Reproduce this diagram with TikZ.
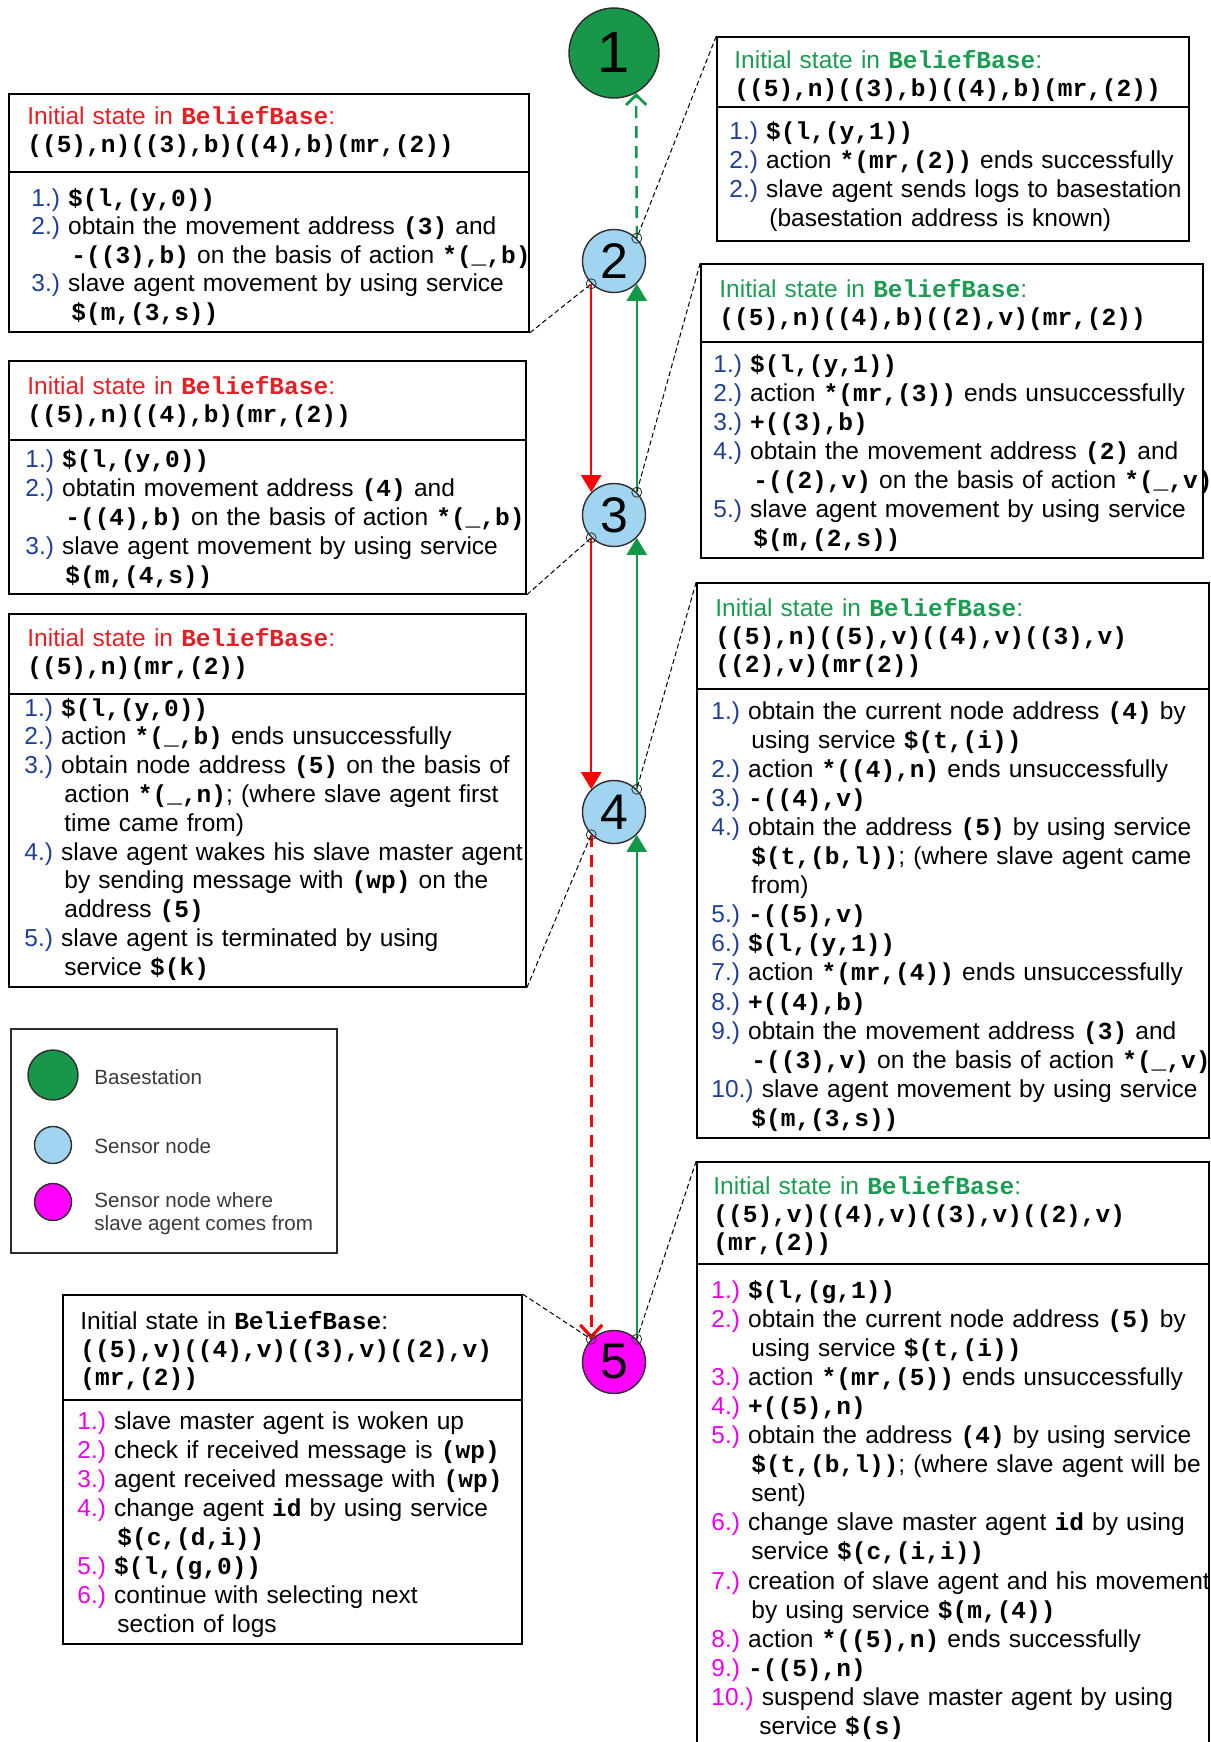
\documentclass[tikz,border=0pt]{standalone}
\usepackage{fontspec}
\setmainfont{Liberation Sans}
\newfontfamily\codefont{Liberation Mono}
\usetikzlibrary{arrows.meta,fit}

\definecolor{hdred}{RGB}{228,32,36}
\definecolor{hdgreen}{RGB}{28,156,82}
\definecolor{numblue}{RGB}{32,64,150}
\definecolor{nummag}{RGB}{232,0,232}
\definecolor{basegreen}{RGB}{24,150,74}
\definecolor{skyblue}{RGB}{160,212,240}
\definecolor{pinkmag}{RGB}{255,0,255}
\definecolor{flowred}{RGB}{255,0,0}
\definecolor{flowgreen}{RGB}{18,150,72}
\definecolor{rim}{RGB}{45,45,45}
\definecolor{legtext}{RGB}{58,58,58}

% bold typewriter for belief-base terms and services
\newcommand{\cd}[1]{{\codefont\bfseries #1}}
% numbered step with hanging continuation lines
\newlength{\hangw}\setlength{\hangw}{20pt}
\colorlet{numc}{numblue}
\newcommand{\itm}[3][\hangw]{\hangindent=#1\hangafter=1\noindent\textcolor{numc}{#2}\ #3\par}

\begin{document}
\begin{tikzpicture}[x=0.5pt,y=-0.5pt,
  panel/.style={draw=black, line width=0.8pt, inner sep=0pt},
  rule/.style={draw=black, line width=0.8pt},
  head/.style={anchor=base west, inner sep=0pt, text width=270pt, align=left,
               font=\fontsize{12.25}{14}\selectfont},
  steps/.style={anchor=base west, inner sep=0pt, text width=270pt, align=left,
               font=\fontsize{12.25}{14.5}\selectfont},
  sensor/.style={circle, draw=rim, line width=0.7pt, fill=skyblue,
                 minimum size=31.5pt, inner sep=0pt, font=\fontsize{25}{25}\selectfont},
  base/.style={sensor, fill=basegreen, minimum size=45pt, font=\fontsize{29}{29}\selectfont},
  origin/.style={sensor, fill=pinkmag},
  redflow/.style={draw=flowred, line width=1pt, -{Triangle[length=8.5pt,width=10pt]}},
  greenflow/.style={draw=flowgreen, line width=1pt, -{Triangle[length=8.5pt,width=10pt]}},
  reddash/.style={draw=flowred, line width=1.4pt, dash pattern=on 6pt off 4pt,
                  -{Straight Barb[length=6pt,width=11pt,line width=1.6pt]}},
  greendash/.style={draw=flowgreen, line width=1.2pt, dash pattern=on 6pt off 4pt,
                  -{Straight Barb[length=5pt,width=10pt,line width=1.4pt]}},
  lead/.style={draw=black, line width=0.5pt, dash pattern=on 2.5pt off 1.5pt},
  ring/.style={draw=rim, line width=0.4pt},
  legdot/.style={circle, draw=rim, line width=0.7pt, inner sep=0pt},
  legtxt/.style={anchor=west, inner sep=0pt, align=left, text=legtext,
                 font=\fontsize{10.3}{11.5}\selectfont}
]
\useasboundingbox (0,0) rectangle (1211,1742);

% ---------------- route nodes ----------------
\node[base]   (n1) at (614,53)   {1};
\node[sensor] (n2) at (614,261)  {2};
\node[sensor] (n3) at (614,515)  {3};
\node[sensor] (n4) at (614,812)  {4};
\node[origin] (n5) at (614,1362) {5};

% outward trip of the slave agent (red) and the way back (green)
\draw[redflow]   (n2.225) -- (n3.135);
\draw[redflow]   (n3.225) -- (n4.135);
\draw[reddash]   (n4.225) -- (n5.135);
\draw[greenflow] (n5.45)  -- (n4.-45);
\draw[greenflow] (n4.45)  -- (n3.-45);
\draw[greenflow] (n3.45)  -- (n2.-45);
\draw[greendash] (n2.45)  -- (n1.-61);

% ---------------- panel at node 1 (top right) ----------------
\node[panel, fit={(717,37) (1189,241)}] (pR1) {};
\draw[rule] (717,107) -- (1189,107);
\node[head] (hR1) at (734,68) {\textcolor{hdgreen}{Initial state in \cd{BeliefBase}:}\\
  \cd{((5),n)((3),b)((4),b)(mr,(2))}};
\node[steps] (sR1) at (729,139) {%
  \itm{1.)}{\cd{\$(l,(y,1))}}
  \itm{2.)}{action \cd{*(mr,(2))} ends successfully}
  \itm{2.)}{slave agent sends logs to basestation\newline (basestation address is known)}};

% ---------------- panel at node 2 (left) ----------------
\node[panel, fit={(9,94) (529,332)}] (pL1) {};
\draw[rule] (9,172) -- (529,172);
\node[head] (hL1) at (27,124) {\textcolor{hdred}{Initial state in \cd{BeliefBase}:}\\
  \cd{((5),n)((3),b)((4),b)(mr,(2))}};
\node[steps, font=\fontsize{12.25}{14.25}\selectfont] (sL1) at (31,206) {%
  \itm{1.)}{\cd{\$(l,(y,0))}}
  \itm{2.)}{obtain the movement address \cd{(3)} and\newline \cd{-((3),b)} on the basis of action \cd{*(\_,b)}}
  \itm{3.)}{slave agent movement by using service\newline \cd{\$(m,(3,s))}}};

% ---------------- panel at node 3 (right) ----------------
\node[panel, fit={(701,264) (1203,558)}] (pR2) {};
\draw[rule] (701,342) -- (1203,342);
\node[head] (hR2) at (719,297) {\textcolor{hdgreen}{Initial state in \cd{BeliefBase}:}\\
  \cd{((5),n)((4),b)((2),v)(mr,(2))}};
\node[steps] (sR2) at (713,372) {%
  \itm{1.)}{\cd{\$(l,(y,1))}}
  \itm{2.)}{action \cd{*(mr,(3))} ends unsuccessfully}
  \itm{3.)}{\cd{+((3),b)}}
  \itm{4.)}{obtain the movement address \cd{(2)} and\newline \cd{-((2),v)} on the basis of action \cd{*(\_,v)}}
  \itm{5.)}{slave agent movement by using service\newline \cd{\$(m,(2,s))}}};

% ---------------- panel at node 3 (left) ----------------
\node[panel, fit={(9,361) (526,594)}] (pL2) {};
\draw[rule] (9,440) -- (526,440);
\node[head] (hL2) at (27,394) {\textcolor{hdred}{Initial state in \cd{BeliefBase}:}\\
  \cd{((5),n)((4),b)(mr,(2))}};
\node[steps] (sL2) at (25,467) {%
  \itm{1.)}{\cd{\$(l,(y,0))}}
  \itm{2.)}{obtatin movement address \cd{(4)} and\newline \cd{-((4),b)} on the basis of action \cd{*(\_,b)}}
  \itm{3.)}{slave agent movement by using service\newline \cd{\$(m,(4,s))}}};

% ---------------- panel at node 4 (right) ----------------
\node[panel, fit={(697,583) (1209,1138)}] (pR3) {};
\draw[rule] (697,689) -- (1209,689);
\node[head] (hR3) at (715,616) {\textcolor{hdgreen}{Initial state in \cd{BeliefBase}:}\\
  \cd{((5),n)((5),v)((4),v)((3),v)}\\
  \cd{((2),v)(mr(2))}};
\node[steps, font=\fontsize{12.25}{14.55}\selectfont] (sR3) at (711,719) {%
  \itm{1.)}{obtain the current node address \cd{(4)} by\newline using service \cd{\$(t,(i))}}
  \itm{2.)}{action \cd{*((4),n)} ends unsuccessfully}
  \itm{3.)}{\cd{-((4),v)}}
  \itm{4.)}{obtain the address \cd{(5)} by using service\newline \cd{\$(t,(b,l))}; (where slave agent came\newline from)}
  \itm{5.)}{\cd{-((5),v)}}
  \itm{6.)}{\cd{\$(l,(y,1))}}
  \itm{7.)}{action \cd{*(mr,(4))} ends unsuccessfully}
  \itm{8.)}{\cd{+((4),b)}}
  \itm{9.)}{obtain the movement address \cd{(3)} and\newline \cd{-((3),v)} on the basis of action \cd{*(\_,v)}}
  \itm{10.)}{slave agent movement by using service\newline \cd{\$(m,(3,s))}}};

% ---------------- panel at node 4 (left) ----------------
\node[panel, fit={(9,614) (526,987)}] (pL3) {};
\draw[rule] (9,694) -- (526,694);
\node[head] (hL3) at (27,646) {\textcolor{hdred}{Initial state in \cd{BeliefBase}:}\\
  \cd{((5),n)(mr,(2))}};
\node[steps, font=\fontsize{12.25}{14.4}\selectfont] (sL3) at (24,716) {%
  \itm{1.)}{\cd{\$(l,(y,0))}}
  \itm{2.)}{action \cd{*(\_,b)} ends unsuccessfully}
  \itm{3.)}{obtain node address \cd{(5)} on the basis of\newline action \cd{*(\_,n)}; (where slave agent first\newline time came from)}
  \itm{4.)}{slave agent wakes his slave master agent\newline by sending message with \cd{(wp)} on the\newline address \cd{(5)}}
  \itm{5.)}{slave agent is terminated by using\newline service \cd{\$(k)}}};

% ---------------- legend ----------------
\node[panel, draw=rim, fit={(11,1029) (337,1253)}] (leg) {};
\node[legdot, fill=basegreen, minimum size=25pt] (lg1) at (53,1075) {};
\node[legdot, fill=skyblue, minimum size=18.5pt] (lg2) at (53,1145) {};
\node[legdot, fill=pinkmag, minimum size=18.5pt] (lg3) at (53,1202) {};
\node[legtxt] (lt1) at (94,1077) {Basestation};
\node[legtxt] (lt2) at (94,1146) {Sensor node};
\node[legtxt] (lt3) at (94,1214) {Sensor node where\\slave agent comes from};

% ---------------- panel at node 5 (left) ----------------
\node[panel, fit={(63,1295) (522,1644)}] (pB) {};
\draw[rule] (63,1400) -- (522,1400);
\node[head] (hB) at (80,1329) {Initial state in \cd{BeliefBase}:\\
  \cd{((5),v)((4),v)((3),v)((2),v)}\\
  \cd{(mr,(2))}};
\node[steps] (sB) at (77,1429) {\colorlet{numc}{nummag}%
  \itm{1.)}{slave master agent is woken up}
  \itm{2.)}{check if received message is \cd{(wp)}}
  \itm{3.)}{agent received message with \cd{(wp)}}
  \itm{4.)}{change agent \cd{id} by using service\newline \cd{\$(c,(d,i))}}
  \itm{5.)}{\cd{\$(l,(g,0))}}
  \itm{6.)}{continue with selecting next\newline section of logs}};

% ---------------- panel at node 5 (right) ----------------
\node[panel, fit={(697,1162) (1209,1748)}] (pR4) {};
\draw[rule] (697,1264) -- (1209,1264);
\node[head] (hR4) at (713,1194) {\textcolor{hdgreen}{Initial state in \cd{BeliefBase}:}\\
  \cd{((5),v)((4),v)((3),v)((2),v)}\\
  \cd{(mr,(2))}};
\node[steps, font=\fontsize{12.25}{14.55}\selectfont] (sR4) at (711,1298) {\colorlet{numc}{nummag}%
  \itm{1.)}{\cd{\$(l,(g,1))}}
  \itm{2.)}{obtain the current node address \cd{(5)} by\newline using service \cd{\$(t,(i))}}
  \itm{3.)}{action \cd{*(mr,(5))} ends unsuccessfully}
  \itm{4.)}{\cd{+((5),n)}}
  \itm{5.)}{obtain the address \cd{(4)} by using service\newline \cd{\$(t,(b,l))}; (where slave agent will be\newline sent)}
  \itm{6.)}{change slave master agent \cd{id} by using\newline service \cd{\$(c,(i,i))}}
  \itm{7.)}{creation of slave agent and his movement\newline by using service \cd{\$(m,(4))}}
  \itm{8.)}{action \cd{*((5),n)} ends successfully}
  \itm{9.)}{\cd{-((5),n)}}
  \itm[24pt]{10.)}{suspend slave master agent by using\newline service \cd{\$(s)}}};

% ---------------- dashed leads from panels to nodes ----------------
\draw[lead] (pR1.north west) -- (n2.45);
\draw[lead] (pL1.south east) -- (n2.225);
\draw[lead] (pR2.north west) -- (n3.45);
\draw[lead] (pL2.south east) -- (n3.225);
\draw[lead] (pR3.north west) -- (n4.45);
\draw[lead] (pL3.south east) -- (n4.225);
\draw[lead] (pR4.north west) -- (n5.45);
\draw[lead] (pB.north east)  -- (n5.135);
\foreach \a in {n2.45,n2.225,n3.45,n3.225,n4.45,n4.225,n5.45,n5.135}
  \draw[ring] (\a) circle (2.5pt);
\end{tikzpicture}
\end{document}
